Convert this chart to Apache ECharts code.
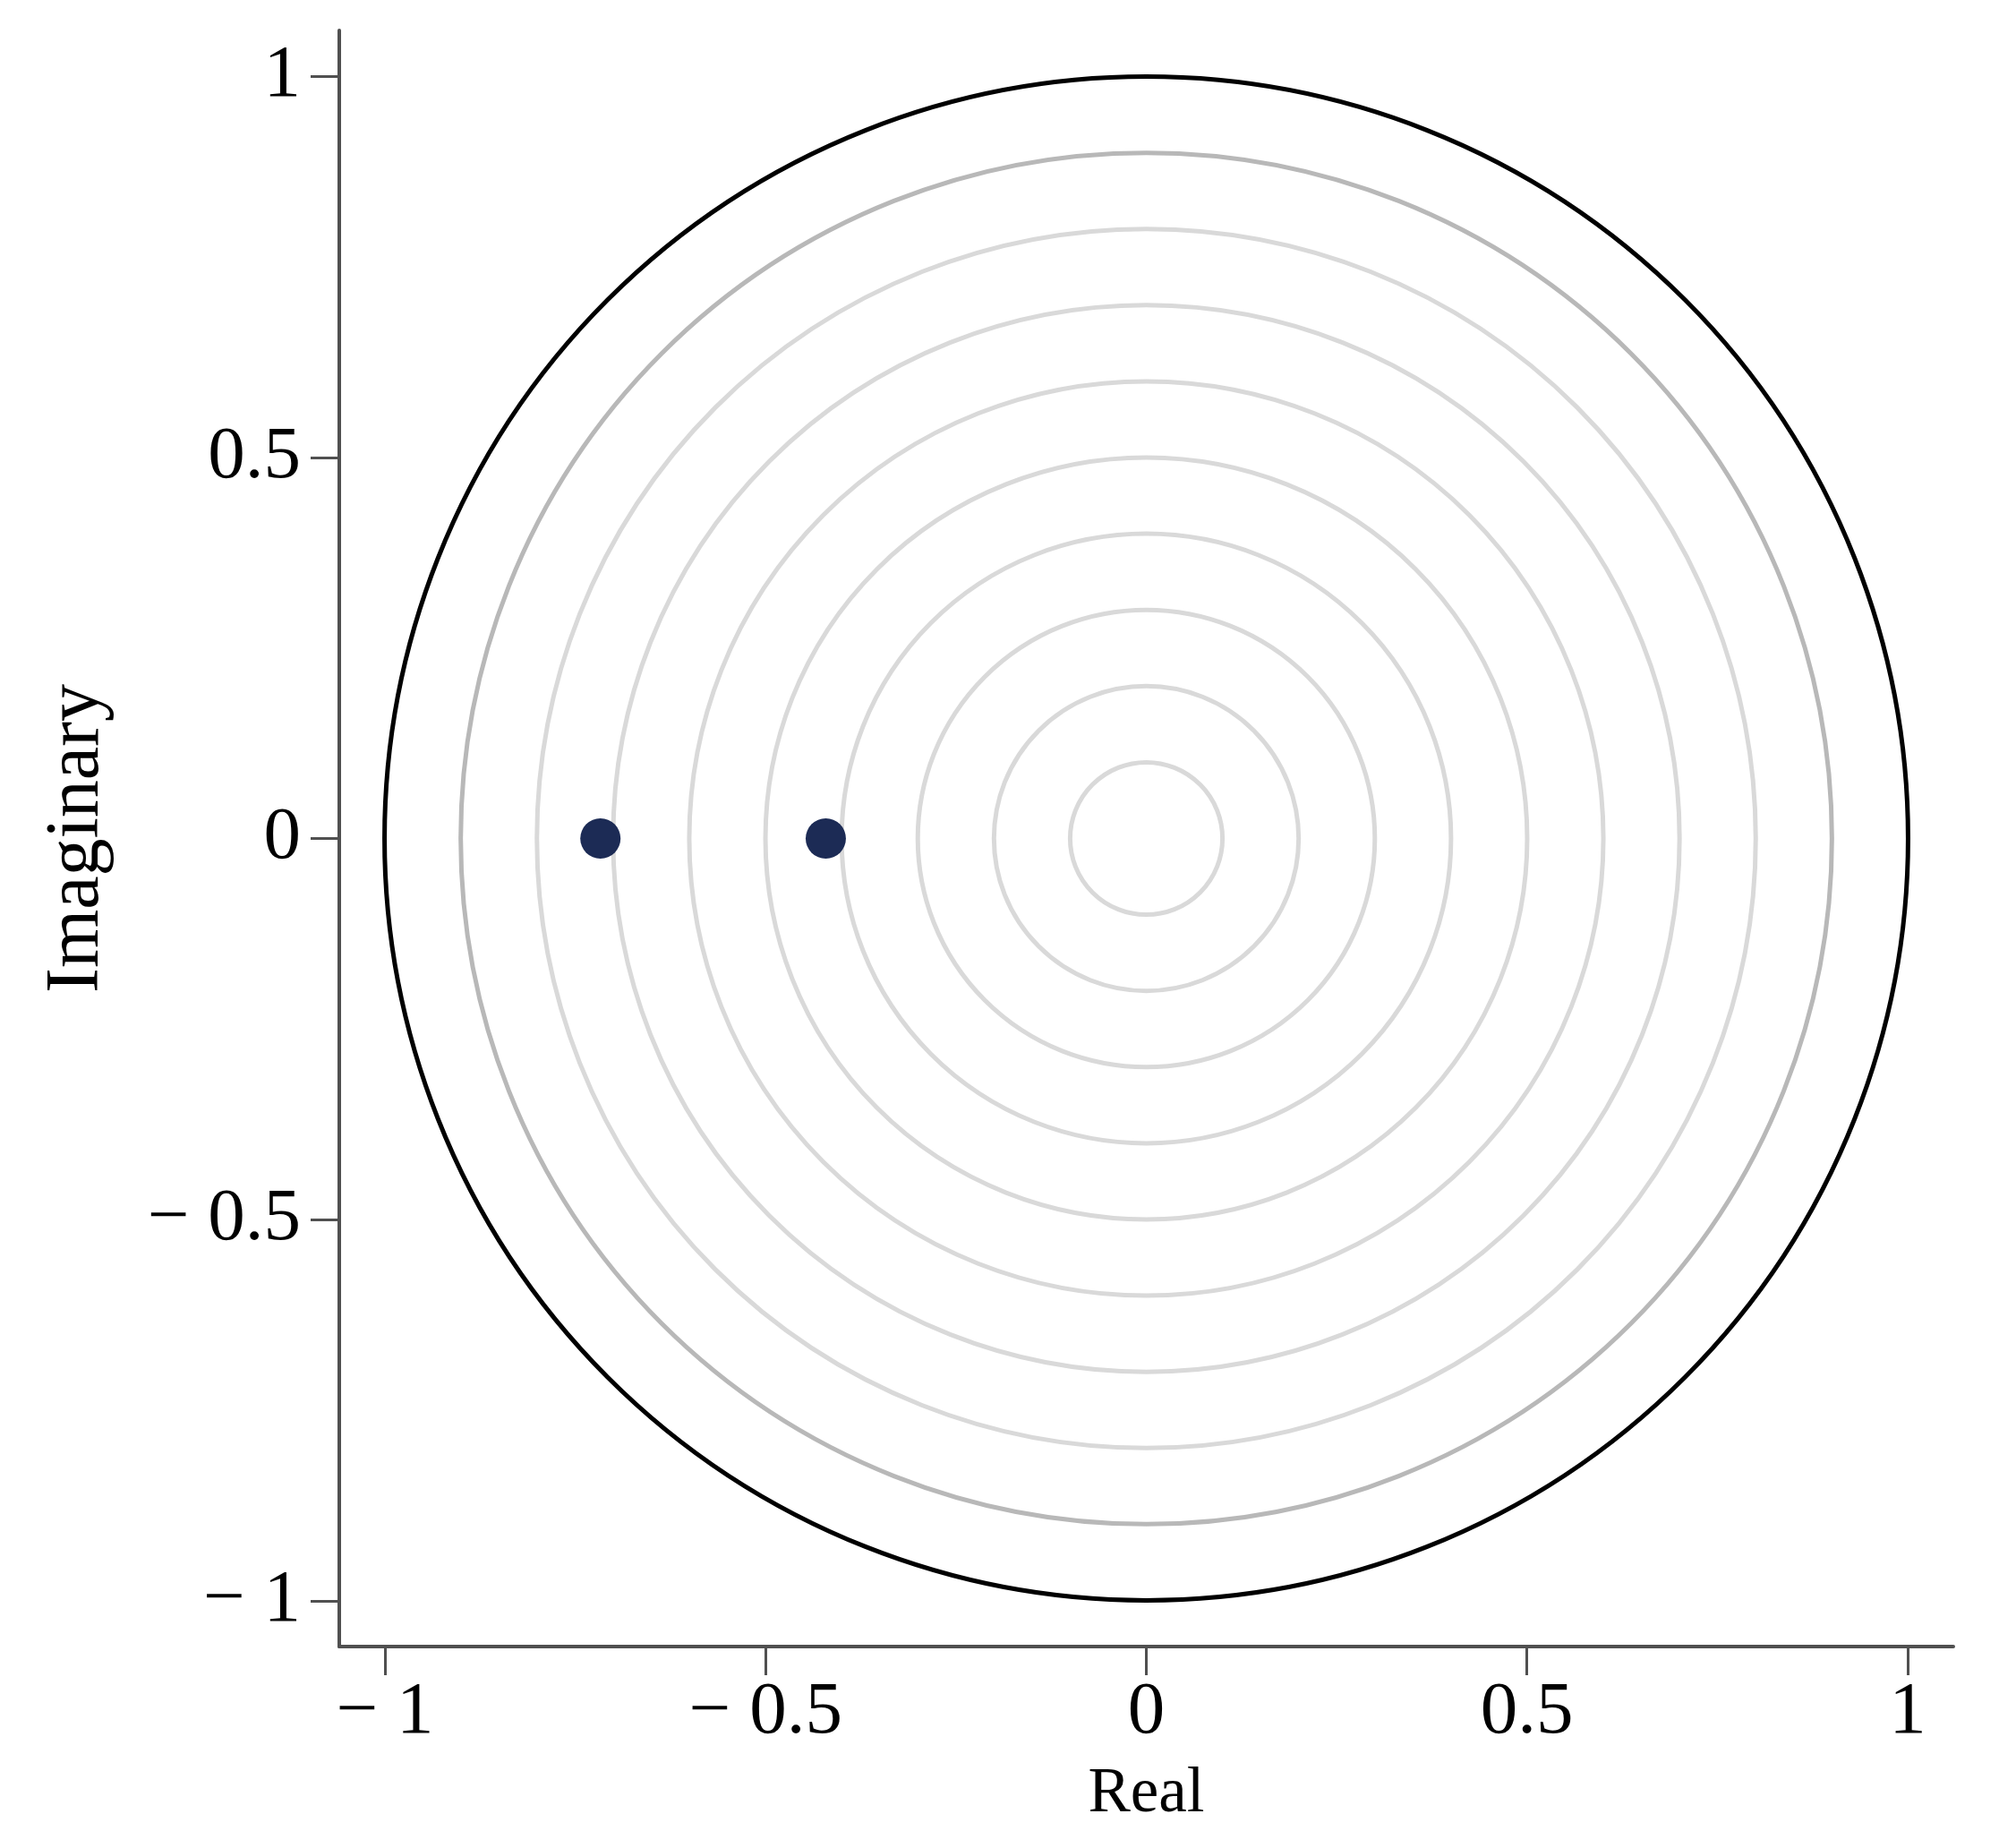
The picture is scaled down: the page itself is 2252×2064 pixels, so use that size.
<!DOCTYPE html>
<html>
<head>
<meta charset="utf-8">
<script src="https://cdn.jsdelivr.net/npm/echarts@6/dist/echarts.min.js"></script>
<style>
html,body{margin:0;padding:0;background:#fff;}
#chart{width:2252px;height:2064px;}
</style>
</head>
<body>
<div id="chart"></div>
<script>
// ---- data ----
const poleReal = [-0.717, -0.421];
const poleImag = [0, 0];
const gridRadii = [0.1, 0.2, 0.3, 0.4, 0.5, 0.6, 0.7, 0.8, 0.9];
const unitRadius = [1];
const xTicks = [-1, -0.5, 0, 0.5, 1];
const yTicks = [-1, -0.5, 0, 0.5, 1];
const xName = 'Real';
const yName = 'Imaginary';

const FONT = '"Liberation Serif", "Times New Roman", serif';
const fmt = v => (v < 0 ? '\u2212 ' + Math.abs(v) : String(v));

function circleSeries(radii, colorFn, width, z) {
  return {
    type: 'custom',
    coordinateSystem: 'cartesian2d',
    clip: false,
    silent: true,
    z: z,
    encode: {x: 0, y: 1},
    data: radii.map(r => [0, 0, r]),
    renderItem: function (params, api) {
      const c = api.coord([api.value(0), api.value(1)]);
      const r = api.value(2);
      const s = api.size([r, r]);
      return {
        type: 'circle',
        shape: {cx: c[0], cy: c[1], r: (s[0] + s[1]) / 2},
        style: {fill: 'none', stroke: colorFn(r), lineWidth: width}
      };
    }
  };
}

const chart = echarts.init(document.getElementById('chart'), null, {renderer: 'canvas'});
chart.setOption({
  backgroundColor: '#ffffff',
  animation: false,
  grid: {left: 379, top: 34, width: 1803, height: 1805, containLabel: false},
  xAxis: {
    type: 'value', min: -1.06, max: 1.06,
    name: xName, nameLocation: 'middle', nameGap: 130,
    nameTextStyle: {fontFamily: FONT, fontSize: 71, color: '#000'},
    axisLine: {show: true, onZero: false, lineStyle: {color: '#505050', width: 4}},
    axisTick: {show: true, length: 32, customValues: xTicks, lineStyle: {color: '#505050', width: 3}},
    axisLabel: {customValues: xTicks, formatter: fmt, margin: 33, fontFamily: FONT, fontSize: 83, color: '#000'},
    splitLine: {show: false}
  },
  yAxis: {
    type: 'value', min: -1.06, max: 1.06,
    name: yName, nameLocation: 'middle', nameGap: 250, nameRotate: 90,
    nameTextStyle: {fontFamily: FONT, fontSize: 84, color: '#000'},
    axisLine: {show: true, onZero: false, lineStyle: {color: '#505050', width: 4}},
    axisTick: {show: true, length: 32, customValues: yTicks, lineStyle: {color: '#505050', width: 3}},
    axisLabel: {customValues: yTicks, formatter: fmt, margin: 43, fontFamily: FONT, fontSize: 83, color: '#000'},
    splitLine: {show: false}
  },
  series: [
    circleSeries(gridRadii, r => (r > 0.85 ? '#b8b8b8' : '#d9d9d9'), 5, 1),
    circleSeries(unitRadius, () => '#000000', 5, 2),
    {
      type: 'scatter',
      z: 5,
      symbol: 'circle',
      symbolSize: 45,
      itemStyle: {color: '#1c2b55', opacity: 1},
      data: poleReal.map((x, i) => [x, poleImag[i]])
    }
  ]
});
</script>
</body>
</html>
